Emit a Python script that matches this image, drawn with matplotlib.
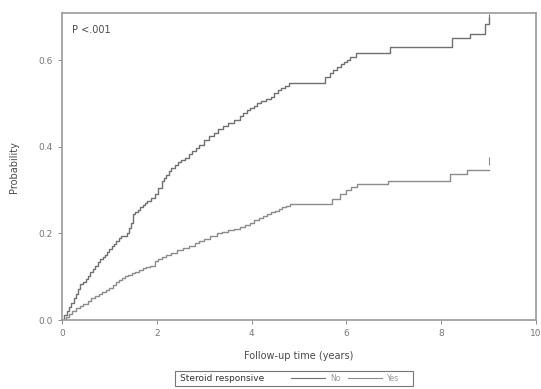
import matplotlib.pyplot as plt
from matplotlib.lines import Line2D
from matplotlib.patches import Rectangle

# Cumulative probability curves
t_no = [0, 0.05, 0.1, 0.15, 0.2, 0.25, 0.3, 0.34, 0.38, 0.44, 0.5, 0.55, 0.6,
        0.65, 0.7, 0.75, 0.8, 0.86, 0.91, 0.95, 1.0, 1.05, 1.1, 1.15, 1.2,
        1.25, 1.3, 1.37, 1.41, 1.45, 1.5, 1.55, 1.6, 1.65, 1.7, 1.75, 1.8,
        1.88, 1.96, 2.03, 2.1, 2.15, 2.2, 2.25, 2.3, 2.38, 2.45, 2.52, 2.6,
        2.68, 2.75, 2.82, 2.9, 3.0, 3.1, 3.2, 3.3, 3.4, 3.5, 3.62, 3.75, 3.82,
        3.9, 3.97, 4.05, 4.12, 4.2, 4.3, 4.4, 4.48, 4.55, 4.62, 4.7, 4.8, 5.55,
        5.65, 5.72, 5.8, 5.88, 5.95, 6.02, 6.08, 6.2, 6.92, 8.23, 8.6, 8.92,
        9.0]
p_no = [0, 0.011, 0.02, 0.031, 0.04, 0.05, 0.06, 0.072, 0.083, 0.089, 0.095,
        0.102, 0.11, 0.118, 0.125, 0.133, 0.14, 0.145, 0.15, 0.158, 0.165,
        0.17, 0.175, 0.183, 0.19, 0.193, 0.195, 0.2, 0.212, 0.225, 0.245,
        0.25, 0.255, 0.26, 0.265, 0.27, 0.275, 0.282, 0.29, 0.305, 0.32,
        0.328, 0.335, 0.343, 0.35, 0.357, 0.365, 0.37, 0.375, 0.383, 0.39,
        0.398, 0.405, 0.415, 0.425, 0.432, 0.44, 0.447, 0.455, 0.462, 0.47,
        0.478, 0.485, 0.49, 0.495, 0.5, 0.506, 0.51, 0.515, 0.523, 0.53,
        0.535, 0.54, 0.548, 0.56, 0.57, 0.578, 0.585, 0.59, 0.595, 0.6, 0.606,
        0.617, 0.629, 0.65, 0.661, 0.684, 0.698]

t_yes = [0, 0.08, 0.15, 0.22, 0.3, 0.38, 0.45, 0.55, 0.62, 0.7, 0.78, 0.85,
         0.92, 1.0, 1.08, 1.15, 1.21, 1.27, 1.33, 1.4, 1.48, 1.55, 1.62, 1.7,
         1.78, 1.86, 1.96, 2.03, 2.1, 2.2, 2.3, 2.42, 2.55, 2.68, 2.8, 2.9,
         3.0, 3.13, 3.27, 3.38, 3.5, 3.62, 3.75, 3.86, 3.97, 4.06, 4.15, 4.24,
         4.32, 4.41, 4.5, 4.58, 4.65, 4.73, 4.81, 5.7, 5.86, 6.0, 6.1, 6.22,
         6.88, 8.19, 8.54, 9.0]
p_yes = [0, 0.008, 0.015, 0.022, 0.028, 0.033, 0.038, 0.044, 0.05, 0.055,
         0.06, 0.065, 0.07, 0.075, 0.082, 0.088, 0.093, 0.097, 0.101, 0.105,
         0.109, 0.112, 0.116, 0.12, 0.122, 0.125, 0.136, 0.14, 0.145, 0.15,
         0.155, 0.161, 0.167, 0.172, 0.177, 0.182, 0.187, 0.193, 0.2, 0.203,
         0.207, 0.211, 0.215, 0.22, 0.225, 0.23, 0.235, 0.24, 0.245, 0.249,
         0.252, 0.256, 0.26, 0.264, 0.268, 0.28, 0.29, 0.3, 0.307, 0.314,
         0.321, 0.337, 0.347, 0.347]

x_ticks = [0, 2, 4, 6, 8, 10]
y_ticks = [0.0, 0.2, 0.4, 0.6]
y_ticklabels = ['0.0', '0.2', '0.4', '0.6']

gray = '#707070'
gray2 = '#8c8c8c'
txt = '#4a4a4a'

fig = plt.figure(figsize=(5.41, 3.89), dpi=100)
ax = fig.add_axes([0.1146, 0.177, 0.876, 0.789])

ax.plot(t_no, p_no, drawstyle='steps-post', color=gray, lw=1.0)
ax.plot(t_yes, p_yes, drawstyle='steps-post', color=gray2, lw=1.0)
# censor marks at the end
ax.plot([t_no[-1]], [p_no[-1]], marker='|', ms=6, color=gray, mew=0.8)
ax.plot([t_yes[-1]], [p_yes[-1] + 0.02], marker='|', ms=6, color=gray2, mew=0.8)

ax.set_xlim(0, 10)
ax.set_ylim(0, 0.708)
ax.set_xticks(x_ticks)
ax.set_yticks(y_ticks)
ax.set_yticklabels(y_ticklabels)
ax.tick_params(colors='#888888', labelcolor='#777777', labelsize=6.5,
               length=3, width=0.7)
for s in ax.spines.values():
    s.set_color('#999999')
    s.set_linewidth(1.2)

ax.text(0.022, 0.945, 'P <.001', transform=ax.transAxes, fontsize=7,
        color=txt, va='center')
ax.set_xlabel('Follow-up time (years)', fontsize=7, color=txt, labelpad=9)
ax.set_ylabel('Probability', fontsize=7, color=txt, labelpad=14)

# legend box below the plot
fig.patches.append(Rectangle((175 / 541, 1 - 386 / 389), 238 / 541, 15 / 389,
                             transform=fig.transFigure, fill=False,
                             edgecolor='#777777', lw=0.8))
fig.text(180 / 541, 1 - 378.5 / 389, 'Steroid responsive', fontsize=6.5,
         color='#333333', va='center')
fig.legend(handles=[Line2D([], [], color=gray, lw=0.8),
                    Line2D([], [], color=gray2, lw=0.8)],
           labels=['No', 'Yes'], ncol=2, frameon=False, fontsize=5.5,
           labelcolor='#999999', handlelength=4.5, handletextpad=0.6,
           columnspacing=1.0, loc='center',
           bbox_to_anchor=(345 / 541, 1 - 378.5 / 389))

fig.savefig('out.png', dpi=100)
